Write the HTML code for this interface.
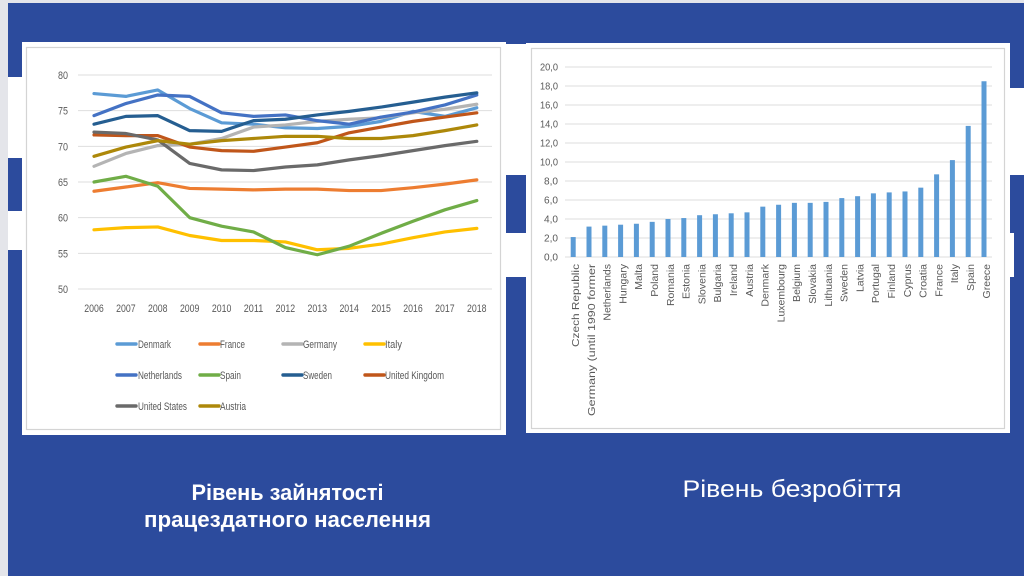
<!DOCTYPE html>
<html><head><meta charset="utf-8"><style>
html,body{margin:0;padding:0;background:#e4e5ea;}
svg{display:block;}
</style></head><body>
<svg width="1024" height="576" viewBox="0 0 1024 576" xmlns="http://www.w3.org/2000/svg" font-family="'Liberation Sans', 'Noto Sans CJK SC', sans-serif">
<rect x="0" y="0" width="1024" height="576" fill="#e4e5ea"/>
<rect x="8" y="3" width="1016" height="573" fill="#2c4b9d"/>
<!-- white bands -->
<rect x="8" y="77" width="16" height="81" fill="#ffffff"/>
<rect x="8" y="211" width="16" height="39" fill="#ffffff"/>
<rect x="500" y="44" width="30" height="131" fill="#ffffff"/>
<rect x="500" y="233" width="30" height="44" fill="#ffffff"/>
<rect x="1005" y="88" width="19" height="87" fill="#ffffff"/>
<rect x="1005" y="233" width="9" height="44" fill="#ffffff"/>

<!-- LEFT CHART -->
<rect x="22" y="42" width="484" height="393" fill="#ffffff"/>
<rect x="26.5" y="47.5" width="474" height="382" fill="none" stroke="#d4d4d4" stroke-width="1.2"/>
<g stroke="#dedede" stroke-width="1">
<line x1="78" y1="75" x2="492" y2="75"/>
<line x1="78" y1="110.67" x2="492" y2="110.67"/>
<line x1="78" y1="146.33" x2="492" y2="146.33"/>
<line x1="78" y1="182" x2="492" y2="182"/>
<line x1="78" y1="217.67" x2="492" y2="217.67"/>
<line x1="78" y1="253.33" x2="492" y2="253.33"/>
<line x1="78" y1="289" x2="492" y2="289"/>
</g>
<g fill="#595959" font-size="11" text-anchor="end">
<text x="68" y="79" textLength="10" lengthAdjust="spacingAndGlyphs">80</text>
<text x="68" y="114.7" textLength="10" lengthAdjust="spacingAndGlyphs">75</text>
<text x="68" y="150.3" textLength="10" lengthAdjust="spacingAndGlyphs">70</text>
<text x="68" y="186" textLength="10" lengthAdjust="spacingAndGlyphs">65</text>
<text x="68" y="221.7" textLength="10" lengthAdjust="spacingAndGlyphs">60</text>
<text x="68" y="257.3" textLength="10" lengthAdjust="spacingAndGlyphs">55</text>
<text x="68" y="293" textLength="10" lengthAdjust="spacingAndGlyphs">50</text>
</g>
<g fill="#595959" font-size="11" text-anchor="middle">
<text x="94" y="312" textLength="19.5" lengthAdjust="spacingAndGlyphs">2006</text>
<text x="125.9" y="312" textLength="19.5" lengthAdjust="spacingAndGlyphs">2007</text>
<text x="157.8" y="312" textLength="19.5" lengthAdjust="spacingAndGlyphs">2008</text>
<text x="189.7" y="312" textLength="19.5" lengthAdjust="spacingAndGlyphs">2009</text>
<text x="221.6" y="312" textLength="19.5" lengthAdjust="spacingAndGlyphs">2010</text>
<text x="253.5" y="312" textLength="19.5" lengthAdjust="spacingAndGlyphs">2011</text>
<text x="285.4" y="312" textLength="19.5" lengthAdjust="spacingAndGlyphs">2012</text>
<text x="317.3" y="312" textLength="19.5" lengthAdjust="spacingAndGlyphs">2013</text>
<text x="349.2" y="312" textLength="19.5" lengthAdjust="spacingAndGlyphs">2014</text>
<text x="381.1" y="312" textLength="19.5" lengthAdjust="spacingAndGlyphs">2015</text>
<text x="413" y="312" textLength="19.5" lengthAdjust="spacingAndGlyphs">2016</text>
<text x="444.9" y="312" textLength="19.5" lengthAdjust="spacingAndGlyphs">2017</text>
<text x="476.8" y="312" textLength="19.5" lengthAdjust="spacingAndGlyphs">2018</text>
</g>
<g fill="none" stroke-width="3.2" stroke-linejoin="round" stroke-linecap="round">
<polyline stroke="#5b9bd5" points="94,93.55 125.9,96.4 157.8,89.98 189.7,108.53 221.6,122.79 253.5,124.21 285.4,127.78 317.3,128.5 349.2,126.36 381.1,121.37 413,111.38 444.9,116.37 476.8,107.81"/>
<polyline stroke="#ed7d31" points="94,191.27 125.9,186.99 157.8,182.71 189.7,188.42 221.6,189.13 253.5,189.85 285.4,189.13 317.3,189.13 349.2,190.56 381.1,190.56 413,187.7 444.9,184.13 476.8,179.86"/>
<polyline stroke="#b4b4b4" points="94,166.3 125.9,153.46 157.8,145.61 189.7,144.19 221.6,138.48 253.5,127.07 285.4,124.93 317.3,121.37 349.2,119.23 381.1,117.8 413,112.81 444.9,109.24 476.8,104.25"/>
<polyline stroke="#ffc000" points="94,229.79 125.9,227.65 157.8,226.94 189.7,235.5 221.6,240.49 253.5,240.49 285.4,241.92 317.3,249.77 349.2,248.34 381.1,244.06 413,237.64 444.9,231.93 476.8,228.36"/>
<polyline stroke="#4472c4" points="94,115.66 125.9,103.53 157.8,94.97 189.7,96.4 221.6,112.81 253.5,116.37 285.4,114.95 317.3,120.65 349.2,124.21 381.1,117.08 413,112.09 444.9,104.96 476.8,94.97"/>
<polyline stroke="#70ad47" points="94,182 125.9,176.29 157.8,186.28 189.7,217.66 221.6,226.22 253.5,231.93 285.4,247.62 317.3,254.75 349.2,246.19 381.1,233.35 413,221.22 444.9,209.81 476.8,200.53"/>
<polyline stroke="#255e91" points="94,124.21 125.9,116.37 157.8,115.66 189.7,130.64 221.6,131.35 253.5,120.65 285.4,119.23 317.3,114.95 349.2,111.38 381.1,107.1 413,102.11 444.9,97.12 476.8,92.84"/>
<polyline stroke="#c0561a" points="94,134.92 125.9,135.63 157.8,135.63 189.7,147.05 221.6,150.61 253.5,151.33 285.4,147.05 317.3,142.77 349.2,132.78 381.1,127.07 413,121.37 444.9,117.08 476.8,112.81"/>
<polyline stroke="#6a6a6a" points="94,132.08 125.9,133.51 157.8,139.93 189.7,163.45 221.6,169.87 253.5,170.58 285.4,167.02 317.3,164.88 349.2,159.89 381.1,155.61 413,150.61 444.9,145.61 476.8,141.34"/>
<polyline stroke="#ad880a" points="94,156.31 125.9,147.05 157.8,140.63 189.7,144.19 221.6,140.63 253.5,138.48 285.4,136.34 317.3,136.34 349.2,138.48 381.1,138.48 413,135.63 444.9,130.64 476.8,124.93"/>
</g>
<!-- legend -->
<g stroke-width="3.4" stroke-linecap="round">
<line x1="117" y1="344" x2="136" y2="344" stroke="#5b9bd5"/>
<line x1="200" y1="344" x2="219" y2="344" stroke="#ed7d31"/>
<line x1="283" y1="344" x2="302" y2="344" stroke="#b4b4b4"/>
<line x1="365" y1="344" x2="384" y2="344" stroke="#ffc000"/>
<line x1="117" y1="375" x2="136" y2="375" stroke="#4472c4"/>
<line x1="200" y1="375" x2="219" y2="375" stroke="#70ad47"/>
<line x1="283" y1="375" x2="302" y2="375" stroke="#255e91"/>
<line x1="365" y1="375" x2="384" y2="375" stroke="#c0561a"/>
<line x1="117" y1="406" x2="136" y2="406" stroke="#6a6a6a"/>
<line x1="200" y1="406" x2="219" y2="406" stroke="#ad880a"/>
</g>
<g fill="#595959" font-size="11">
<text x="138" y="348" textLength="33" lengthAdjust="spacingAndGlyphs">Denmark</text>
<text x="220" y="348" textLength="25" lengthAdjust="spacingAndGlyphs">France</text>
<text x="303" y="348" textLength="34" lengthAdjust="spacingAndGlyphs">Germany</text>
<text x="385" y="348" textLength="17" lengthAdjust="spacingAndGlyphs">Italy</text>
<text x="138" y="379" textLength="44" lengthAdjust="spacingAndGlyphs">Netherlands</text>
<text x="220" y="379" textLength="21" lengthAdjust="spacingAndGlyphs">Spain</text>
<text x="303" y="379" textLength="29" lengthAdjust="spacingAndGlyphs">Sweden</text>
<text x="385" y="379" textLength="59" lengthAdjust="spacingAndGlyphs">United Kingdom</text>
<text x="138" y="410" textLength="49" lengthAdjust="spacingAndGlyphs">United States</text>
<text x="220" y="410" textLength="26" lengthAdjust="spacingAndGlyphs">Austria</text>
</g>

<!-- RIGHT CHART -->
<rect x="526" y="43" width="484" height="390" fill="#ffffff"/>
<rect x="531.5" y="48.5" width="473" height="380" fill="none" stroke="#d4d4d4" stroke-width="1.2"/>
<g stroke="#dedede" stroke-width="1">
<line x1="565" y1="257" x2="992" y2="257"/>
<line x1="565" y1="238" x2="992" y2="238"/>
<line x1="565" y1="219" x2="992" y2="219"/>
<line x1="565" y1="200" x2="992" y2="200"/>
<line x1="565" y1="181" x2="992" y2="181"/>
<line x1="565" y1="162" x2="992" y2="162"/>
<line x1="565" y1="143" x2="992" y2="143"/>
<line x1="565" y1="124" x2="992" y2="124"/>
<line x1="565" y1="105" x2="992" y2="105"/>
<line x1="565" y1="86" x2="992" y2="86"/>
<line x1="565" y1="67" x2="992" y2="67"/>
</g>
<g fill="#595959" font-size="10" text-anchor="end">
<text x="558" y="260.5" textLength="14" lengthAdjust="spacingAndGlyphs">0,0</text>
<text x="558" y="241.5" textLength="14" lengthAdjust="spacingAndGlyphs">2,0</text>
<text x="558" y="222.5" textLength="14" lengthAdjust="spacingAndGlyphs">4,0</text>
<text x="558" y="203.5" textLength="14" lengthAdjust="spacingAndGlyphs">6,0</text>
<text x="558" y="184.5" textLength="14" lengthAdjust="spacingAndGlyphs">8,0</text>
<text x="558" y="165.5" textLength="18" lengthAdjust="spacingAndGlyphs">10,0</text>
<text x="558" y="146.5" textLength="18" lengthAdjust="spacingAndGlyphs">12,0</text>
<text x="558" y="127.5" textLength="18" lengthAdjust="spacingAndGlyphs">14,0</text>
<text x="558" y="108.5" textLength="18" lengthAdjust="spacingAndGlyphs">16,0</text>
<text x="558" y="89.5" textLength="18" lengthAdjust="spacingAndGlyphs">18,0</text>
<text x="558" y="70.5" textLength="18" lengthAdjust="spacingAndGlyphs">20,0</text>
</g>
<g fill="#5b9bd5">
<rect x="570.7" y="237.05" width="5" height="19.95"/>
<rect x="586.5" y="226.6" width="5" height="30.4"/>
<rect x="602.3" y="225.65" width="5" height="31.35"/>
<rect x="618.1" y="224.7" width="5" height="32.3"/>
<rect x="633.9" y="223.75" width="5" height="33.25"/>
<rect x="649.7" y="221.85" width="5" height="35.15"/>
<rect x="665.5" y="219" width="5" height="38"/>
<rect x="681.3" y="218.05" width="5" height="38.95"/>
<rect x="697.1" y="215.2" width="5" height="41.8"/>
<rect x="712.9" y="214.25" width="5" height="42.75"/>
<rect x="728.7" y="213.3" width="5" height="43.7"/>
<rect x="744.5" y="212.35" width="5" height="44.65"/>
<rect x="760.3" y="206.65" width="5" height="50.35"/>
<rect x="776.1" y="204.75" width="5" height="52.25"/>
<rect x="791.9" y="202.85" width="5" height="54.15"/>
<rect x="807.7" y="202.85" width="5" height="54.15"/>
<rect x="823.5" y="201.9" width="5" height="55.1"/>
<rect x="839.3" y="198.1" width="5" height="58.9"/>
<rect x="855.1" y="196.2" width="5" height="60.8"/>
<rect x="870.9" y="193.35" width="5" height="63.65"/>
<rect x="886.7" y="192.4" width="5" height="64.6"/>
<rect x="902.5" y="191.45" width="5" height="65.55"/>
<rect x="918.3" y="187.65" width="5" height="69.35"/>
<rect x="934.1" y="174.35" width="5" height="82.65"/>
<rect x="949.9" y="160.1" width="5" height="96.9"/>
<rect x="965.7" y="125.9" width="5" height="131.1"/>
<rect x="981.5" y="81.25" width="5" height="175.75"/>
</g>
<g fill="#595959" font-size="10.5" text-anchor="end">
<text transform="translate(579,264) rotate(-90)" textLength="83" lengthAdjust="spacingAndGlyphs">Czech Republic</text>
<text transform="translate(594.8,264) rotate(-90)" textLength="152" lengthAdjust="spacingAndGlyphs">Germany (until 1990 former</text>
<text transform="translate(610.6,264) rotate(-90)">Netherlands</text>
<text transform="translate(626.4,264) rotate(-90)">Hungary</text>
<text transform="translate(642.2,264) rotate(-90)">Malta</text>
<text transform="translate(658,264) rotate(-90)">Poland</text>
<text transform="translate(673.8,264) rotate(-90)">Romania</text>
<text transform="translate(689.6,264) rotate(-90)">Estonia</text>
<text transform="translate(705.4,264) rotate(-90)">Slovenia</text>
<text transform="translate(721.2,264) rotate(-90)">Bulgaria</text>
<text transform="translate(737,264) rotate(-90)">Ireland</text>
<text transform="translate(752.8,264) rotate(-90)">Austria</text>
<text transform="translate(768.6,264) rotate(-90)">Denmark</text>
<text transform="translate(784.4,264) rotate(-90)">Luxembourg</text>
<text transform="translate(800.2,264) rotate(-90)">Belgium</text>
<text transform="translate(816,264) rotate(-90)">Slovakia</text>
<text transform="translate(831.8,264) rotate(-90)">Lithuania</text>
<text transform="translate(847.6,264) rotate(-90)">Sweden</text>
<text transform="translate(863.4,264) rotate(-90)">Latvia</text>
<text transform="translate(879.2,264) rotate(-90)">Portugal</text>
<text transform="translate(895,264) rotate(-90)">Finland</text>
<text transform="translate(910.8,264) rotate(-90)">Cyprus</text>
<text transform="translate(926.6,264) rotate(-90)">Croatia</text>
<text transform="translate(942.4,264) rotate(-90)">France</text>
<text transform="translate(958.2,264) rotate(-90)">Italy</text>
<text transform="translate(974,264) rotate(-90)">Spain</text>
<text transform="translate(989.8,264) rotate(-90)">Greece</text>
</g>

<!-- titles -->
<g fill="#ffffff" text-anchor="middle">
<text x="287.5" y="500" font-size="22" font-weight="bold" textLength="192" lengthAdjust="spacingAndGlyphs">Рівень зайнятості</text>
<text x="287.5" y="527" font-size="22" font-weight="bold" textLength="287" lengthAdjust="spacingAndGlyphs">працездатного населення</text>
<text x="792" y="497" font-size="24" textLength="219" lengthAdjust="spacingAndGlyphs">Рівень безробіття</text>
</g>
</svg>
</body></html>
